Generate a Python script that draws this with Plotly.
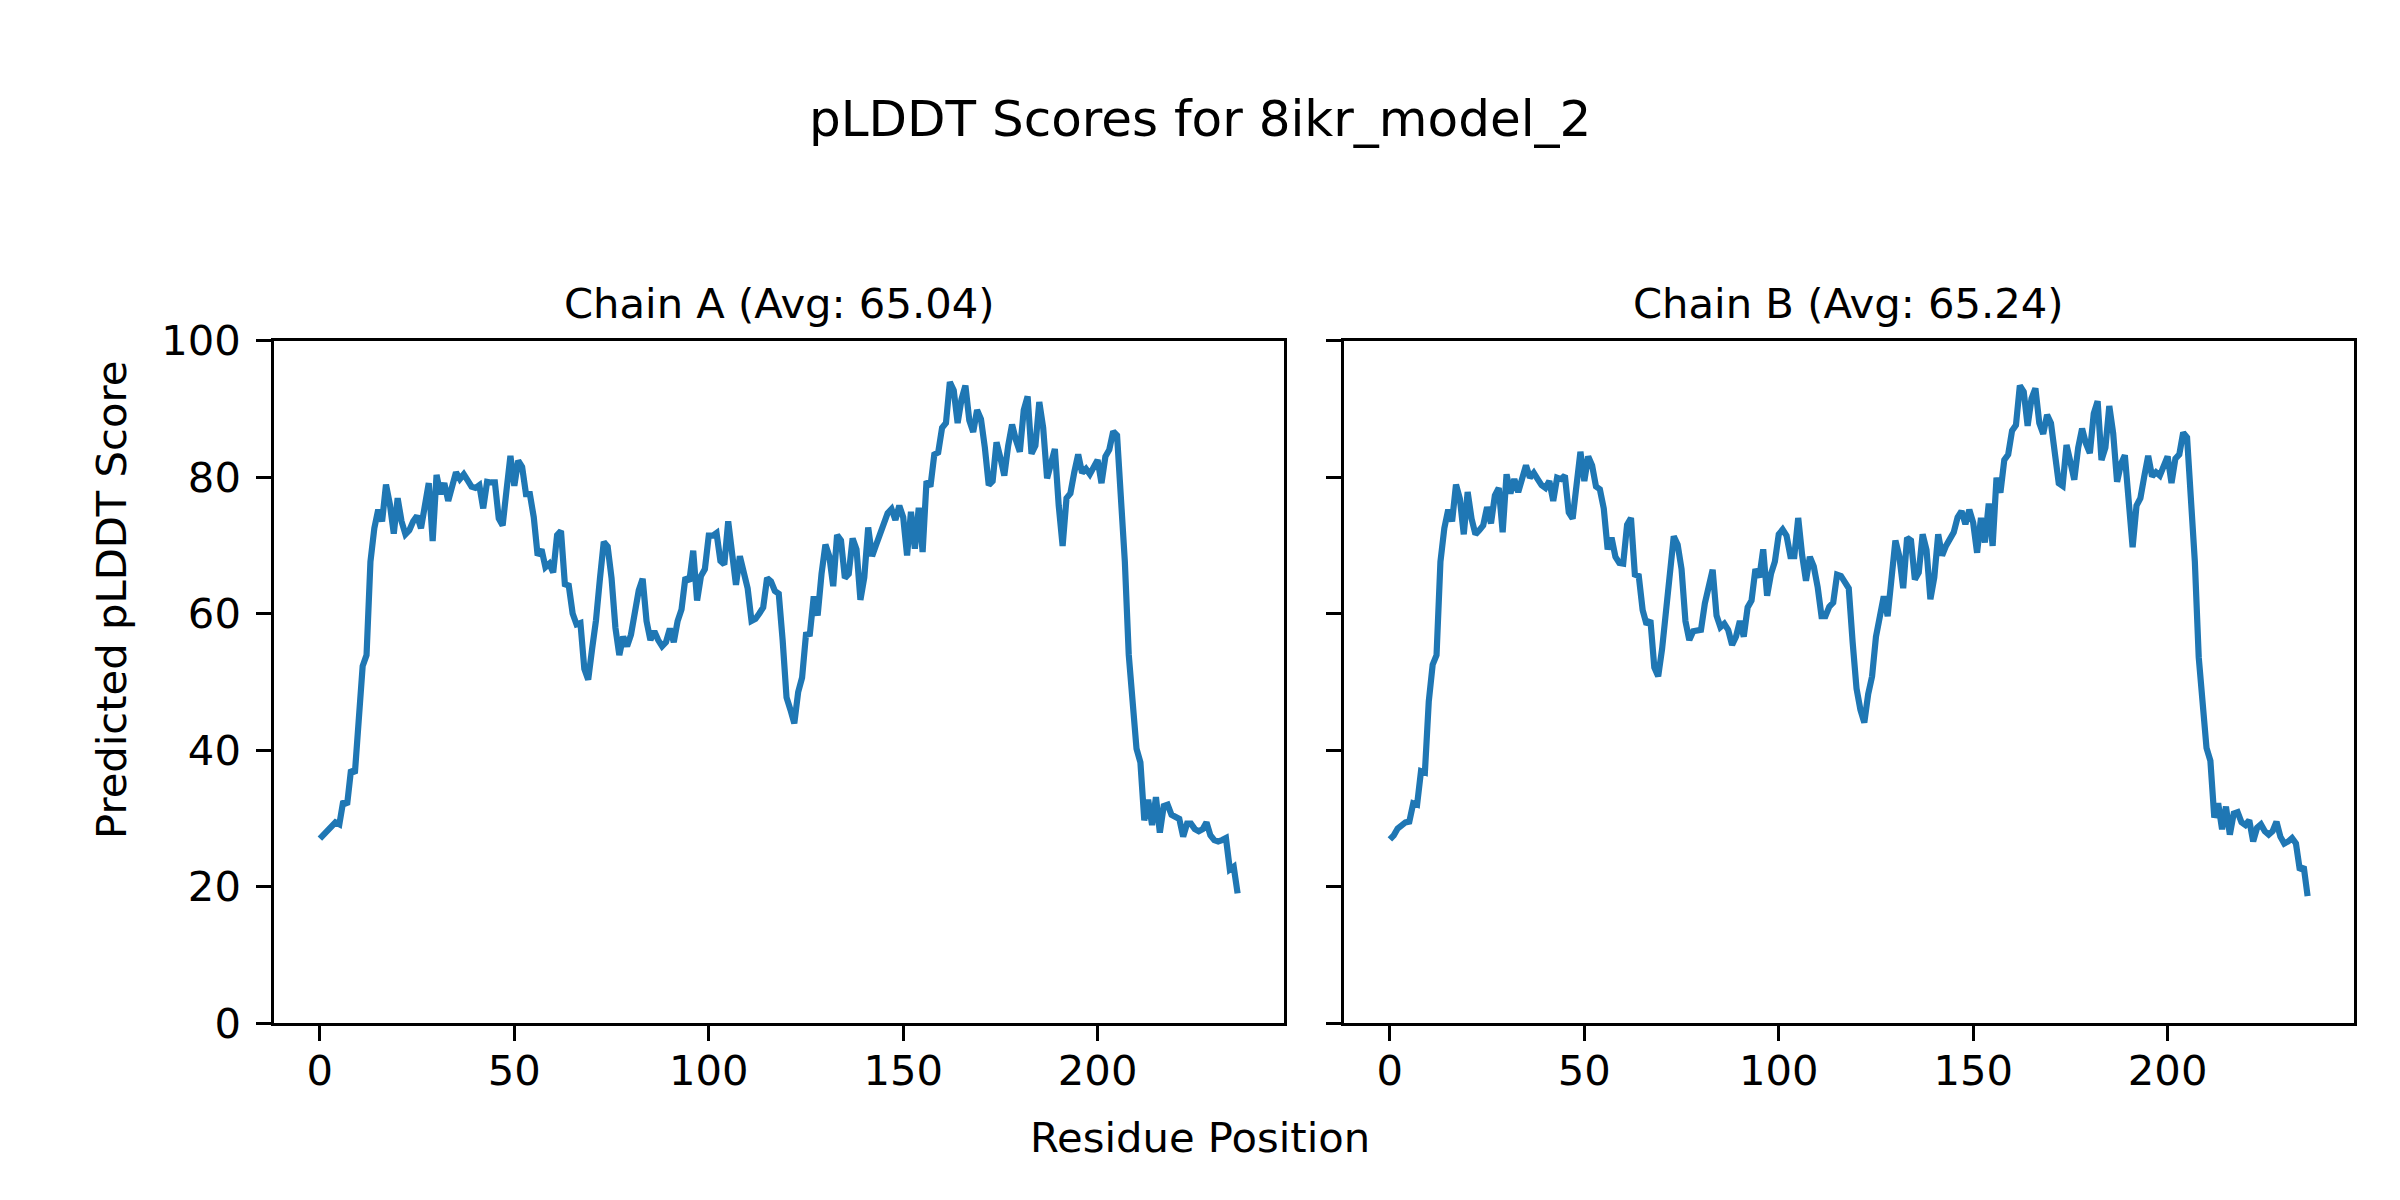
import plotly.graph_objects as go

# ---- Data ----
chain_a_plddt = [
    27.0, 27.6, 28.3, 29.0, 29.4, 29.1, 32.5, 32.0, 37.1, 36.6,
    46.0, 52.3, 53.9, 67.6, 72.5, 75.2, 73.5, 78.9, 76.0, 71.7,
    76.9, 73.5, 71.6, 72.2, 73.5, 74.3, 72.5, 76.1, 79.1, 70.6,
    80.3, 77.5, 79.1, 76.5, 79.1, 80.7, 79.7, 80.4, 79.5, 78.6,
    78.4, 78.8, 75.4, 79.3, 79.2, 79.2, 73.9, 72.9, 78.1, 83.1,
    78.7, 82.4, 81.5, 77.5, 77.5, 74.1, 68.5, 69.4, 66.8, 67.3,
    66.0, 71.5, 72.1, 64.3, 64.1, 60.0, 58.4, 58.6, 51.9, 50.3,
    54.8, 59.0, 65.0, 70.5, 69.8, 65.2, 57.9, 53.9, 56.6, 55.2,
    56.9, 60.5, 63.4, 65.1, 58.9, 56.1, 57.4, 56.1, 55.2, 55.8,
    57.8, 55.8, 58.9, 60.6, 65.3, 64.7, 69.2, 61.9, 65.5, 66.5,
    71.4, 71.4, 71.8, 67.7, 67.2, 73.5, 68.4, 64.2, 68.4, 65.8,
    63.7, 58.9, 59.2, 60.0, 60.9, 65.2, 64.7, 63.3, 62.9, 56.1,
    47.7, 45.9, 43.9, 48.5, 50.6, 56.9, 57.0, 62.5, 59.7, 65.8,
    70.1, 68.4, 64.0, 71.5, 70.7, 65.2, 65.8, 71.0, 69.4, 62.0,
    65.3, 72.6, 68.4, 70.0, 71.5, 72.6, 74.7, 75.3, 73.7, 75.8,
    74.1, 68.5, 74.9, 69.5, 75.5, 69.0, 79.4, 78.6, 83.3, 83.6,
    87.2, 87.9, 93.9, 92.7, 87.9, 91.4, 93.4, 88.3, 86.6, 89.8,
    88.5, 84.3, 78.8, 79.4, 85.1, 82.8, 80.2, 84.6, 87.7, 85.4,
    83.7, 89.8, 91.8, 83.4, 84.6, 91.0, 87.2, 79.8, 82.4, 84.1,
    75.8, 69.9, 76.9, 77.6, 80.7, 83.3, 80.6, 81.2, 80.4, 81.5,
    82.5, 79.1, 83.0, 84.0, 86.7, 86.1, 78.0, 67.6, 54.0, 45.4,
    40.2, 38.2, 29.7, 32.7, 29.0, 33.1, 27.9, 31.8, 32.0, 30.5,
    30.1, 29.9, 27.3, 29.2, 29.2, 28.4, 28.1, 28.4, 29.4, 27.5,
    26.8, 26.6, 26.8, 27.1, 22.5, 22.9, 19.0,
]

chain_b_plddt = [
    26.9, 27.5, 28.5, 28.9, 29.4, 29.5, 32.2, 32.0, 36.9, 36.7,
    47.1, 52.5, 53.9, 67.6, 72.5, 75.2, 73.5, 78.9, 76.8, 71.6,
    77.8, 73.9, 71.6, 72.2, 72.9, 75.6, 73.2, 77.3, 78.4, 71.9,
    80.4, 77.6, 79.7, 77.8, 79.7, 81.7, 79.9, 80.6, 79.7, 78.8,
    78.4, 79.4, 76.5, 79.9, 79.7, 80.2, 74.8, 73.9, 78.8, 83.7,
    79.4, 83.0, 81.7, 78.6, 78.2, 75.4, 69.4, 71.1, 68.3, 67.4,
    67.3, 73.0, 74.0, 65.7, 65.5, 60.5, 58.4, 59.0, 52.1, 50.8,
    54.8, 60.0, 66.0, 71.3, 70.1, 66.5, 58.9, 56.1, 57.4, 57.5,
    57.6, 61.5, 64.2, 66.4, 59.7, 58.0, 58.5, 57.6, 55.4, 56.6,
    58.9, 56.6, 60.9, 61.9, 66.5, 65.3, 69.4, 62.6, 65.8, 67.6,
    71.6, 72.3, 71.4, 68.4, 68.4, 74.0, 68.6, 64.8, 68.3, 66.9,
    63.9, 59.6, 59.6, 61.0, 61.6, 65.7, 65.5, 64.4, 63.7, 55.8,
    49.0, 45.9, 44.0, 48.2, 50.8, 56.6, 59.5, 62.5, 59.6, 66.0,
    70.7, 68.4, 63.7, 71.1, 70.7, 65.0, 66.0, 71.6, 69.3, 62.1,
    65.3, 71.6, 68.5, 69.9, 71.0, 71.9, 74.1, 75.0, 73.1, 75.2,
    73.3, 68.9, 74.0, 70.4, 76.1, 69.9, 79.9, 77.7, 82.5, 83.3,
    86.8, 87.6, 93.4, 92.5, 87.5, 91.5, 93.0, 87.9, 86.3, 89.1,
    87.9, 83.8, 79.1, 78.7, 84.7, 82.2, 79.6, 84.3, 87.1, 84.9,
    83.5, 89.3, 91.1, 82.5, 84.3, 90.4, 86.4, 79.3, 81.9, 83.2,
    75.8, 69.7, 75.8, 76.9, 80.1, 83.1, 80.1, 80.7, 80.2, 81.5,
    83.0, 79.1, 82.7, 83.3, 86.5, 85.8, 78.1, 67.6, 53.6, 45.4,
    40.3, 38.4, 30.1, 32.2, 28.4, 31.7, 27.6, 30.7, 30.9, 29.4,
    29.0, 29.7, 26.6, 28.6, 29.1, 28.1, 27.6, 28.1, 29.5, 27.3,
    26.3, 26.6, 27.1, 26.3, 22.4, 22.9, 18.6,
]

residues_a = list(range(len(chain_a_plddt)))
residues_b = list(range(len(chain_b_plddt)))

main_title = "pLDDT Scores for 8ikr_model_2"
chain_titles = ["Chain A (Avg: 65.04)", "Chain B (Avg: 65.24)"]
x_label = "Residue Position"
y_label = "Predicted pLDDT Score"
x_ticks = [0, 50, 100, 150, 200]
y_ticks = [0, 20, 40, 60, 80, 100]

# ---- Styling ----
FONT = "DejaVu Sans"
LINE_COLOR = "#1f77b4"
FS = 41.7
W, H = 2400, 1200
OFF = 8  # compensate the page's body margin (px)


def px(x):
    return (x - OFF) / W


def py(y):
    return 1 - (y - OFF) / H


x_range = [-11.8, 247.8]
dom_y = [py(1023), py(340.5)]
dom_xa = [px(274), px(1283.5)]
dom_xb = [px(1344), px(2353.5)]

fig = go.Figure()
fig.add_trace(go.Scatter(x=residues_a, y=chain_a_plddt, mode="lines",
                         line=dict(color=LINE_COLOR, width=6.2),
                         xaxis="x", yaxis="y", showlegend=False))
fig.add_trace(go.Scatter(x=residues_b, y=chain_b_plddt, mode="lines",
                         line=dict(color=LINE_COLOR, width=6.2),
                         xaxis="x2", yaxis="y2", showlegend=False))

axis_common = dict(
    showgrid=False, zeroline=False, showline=True, mirror=True,
    linecolor="black", linewidth=3.3, ticks="outside", ticklen=14.6,
    tickwidth=3.3, tickcolor="black", automargin=False,
    tickfont=dict(family=FONT, size=FS, color="black"),
)

fig.update_layout(
    width=W, height=H, autosize=False,
    margin=dict(l=0, r=0, t=0, b=0, pad=0),
    paper_bgcolor="white", plot_bgcolor="white",
    font=dict(family=FONT, size=FS, color="black"),
    xaxis=dict(domain=dom_xa, range=x_range, tickvals=x_ticks, anchor="y",
               ticklabelstandoff=-6, **axis_common),
    yaxis=dict(domain=dom_y, range=[0, 100], tickvals=y_ticks, anchor="x",
               ticklabelstandoff=7, **axis_common),
    xaxis2=dict(domain=dom_xb, range=x_range, tickvals=x_ticks, anchor="y2",
                ticklabelstandoff=-6, **axis_common),
    yaxis2=dict(domain=dom_y, range=[0, 100], tickvals=y_ticks, anchor="x2",
                showticklabels=False, **axis_common),
)

annotations = [
    dict(text=main_title, x=px(1200), y=py(119), xref="paper", yref="paper",
         showarrow=False, xanchor="center", yanchor="middle",
         font=dict(family=FONT, size=50, color="black")),
    dict(text=chain_titles[0], x=(dom_xa[0] + dom_xa[1]) / 2, y=py(303),
         xref="paper", yref="paper", showarrow=False, xanchor="center",
         yanchor="middle", font=dict(family=FONT, size=FS, color="black")),
    dict(text=chain_titles[1], x=(dom_xb[0] + dom_xb[1]) / 2, y=py(303),
         xref="paper", yref="paper", showarrow=False, xanchor="center",
         yanchor="middle", font=dict(family=FONT, size=FS, color="black")),
    dict(text=x_label, x=px(1200), y=py(1137), xref="paper", yref="paper",
         showarrow=False, xanchor="center", yanchor="middle",
         font=dict(family=FONT, size=FS, color="black")),
    dict(text=y_label, x=px(111), y=py(600), xref="paper", yref="paper",
         showarrow=False, xanchor="center", yanchor="middle", textangle=-90,
         font=dict(family=FONT, size=FS, color="black")),
]
fig.update_layout(annotations=annotations)

fig.write_html("out.html")
